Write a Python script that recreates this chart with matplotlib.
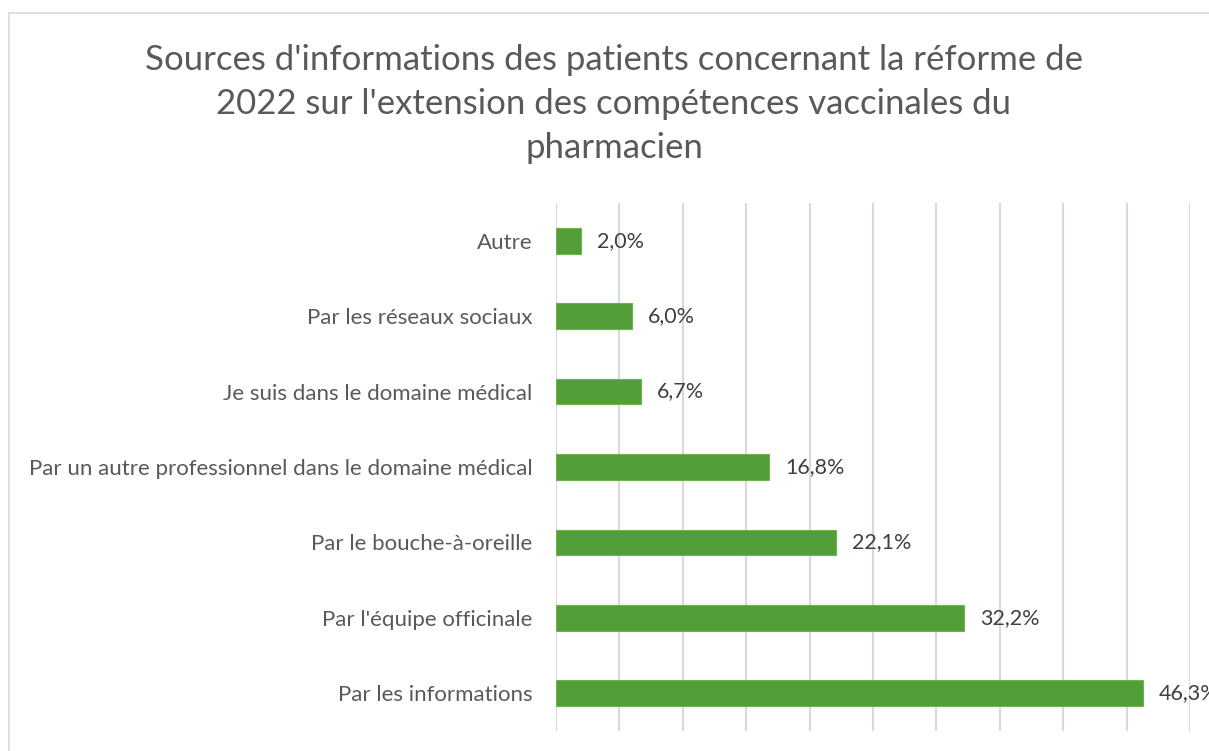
import matplotlib
matplotlib.use("Agg")
import matplotlib.pyplot as plt
from matplotlib.patches import Rectangle

categories = ["Par les informations", "Par l'équipe officinale", "Par le bouche-à-oreille",
              "Par un autre professionnel dans le domaine médical",
              "Je suis dans le domaine médical", "Par les réseaux sociaux", "Autre"]
values = [46.3, 32.2, 22.1, 16.8, 6.7, 6.0, 2.0]
value_labels = ["46,3%", "32,2%", "22,1%", "16,8%", "6,7%", "6,0%", "2,0%"]
title = "Sources d'informations des patients concernant la réforme de\n2022 sur l'extension des compétences vaccinales du\npharmacien"

plt.rcParams['font.family'] = ['Lato', 'DejaVu Sans']

W, H = 1209, 751
fig = plt.figure(figsize=(W/100, H/100), dpi=100)
fig.patches.append(Rectangle((9/W, -0.1), 1.2, 1 - 13/H + 0.1, transform=fig.transFigure,
                             fill=False, edgecolor='#D9D9D9', linewidth=1.2))

ax = fig.add_axes([556/W, 1 - 731/H, (1190 - 556)/W, (731 - 203)/H])
y = list(range(len(categories)))
ax.barh(y, values, height=0.34, color='#549E39', edgecolor='#6DB44F', linewidth=0.8, zorder=3)
ax.set_xlim(0, 50)
ax.set_ylim(-0.5, len(categories) - 0.5)
ax.set_xticks([0, 5, 10, 15, 20, 25, 30, 35, 40, 45, 50])
ax.grid(axis='x', color='#D9D9D9', linewidth=1.5, zorder=0)
ax.tick_params(axis='x', length=0, labelbottom=False)
ax.tick_params(axis='y', length=0, pad=17, labelsize=16, labelcolor='#595959')
ax.set_yticks(y)
ax.set_yticklabels(categories)
for s in ax.spines.values():
    s.set_visible(False)
for yi, v, lab in zip(y, values, value_labels):
    ax.annotate(lab, (v, yi), xytext=(11.5, 0), textcoords='offset points', va='center', ha='left',
                fontsize=15.5, color='#404040', annotation_clip=False, clip_on=False)

fig.text(614/W, 1 - 104/H, title, ha='center', va='center', fontsize=25, color='#595959',
         linespacing=1.46)

fig.savefig('out.png', dpi=100)
